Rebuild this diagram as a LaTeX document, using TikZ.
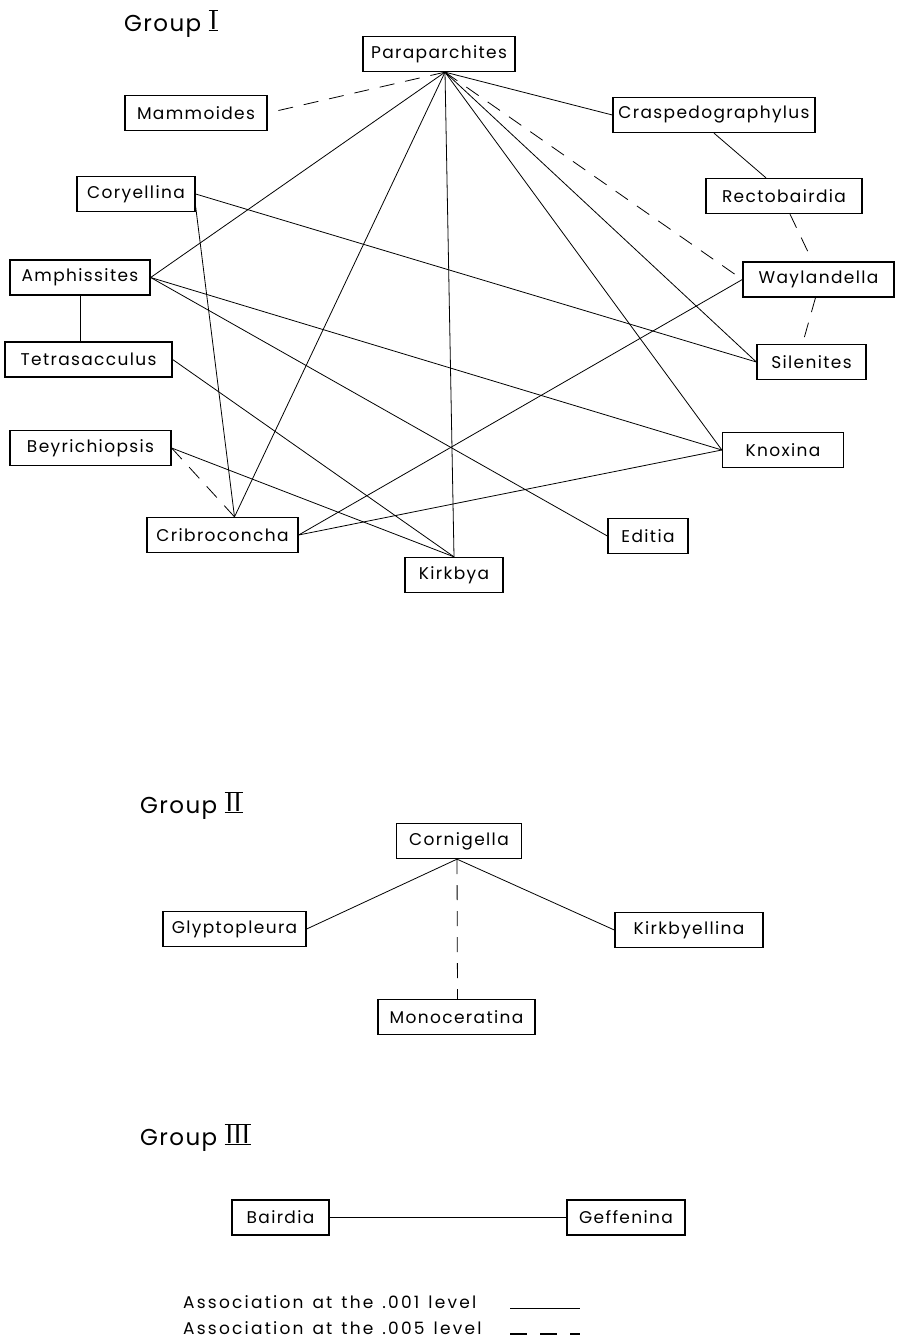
\documentclass[tikz,border=0pt]{standalone}
\usepackage{fontspec}
\setmainfont{Poppins}[LetterSpace=8]
\usetikzlibrary{positioning}
% roman numeral with bars above and below
\newcommand\grpnum[1]{\vbox{\hrule height 1.3pt\hbox{\fontsize{27}{30}\selectfont\kern1.5pt#1\kern1.5pt}\hrule height 1.3pt}}
% wide word gaps for the legend
\newcommand\legendfont{\fontsize{17}{20}\selectfont\addfontfeatures{LetterSpace=13}\spaceskip 9pt\relax}

\begin{document}
\begin{tikzpicture}[
    x=1pt, y=-1pt,
    taxon/.style={rectangle, draw, line width=1.3pt, minimum width=#1, minimum height=35pt, inner xsep=4pt, font=\fontsize{17}{20}\selectfont},
    taxon/.default=100pt,
    strong/.style={line width=0.8pt},
    weak/.style={line width=0.8pt, dash pattern=on 15pt off 11pt},
    grouplabel/.style={anchor=base west, inner sep=0pt, font=\fontsize{23}{27}\selectfont\addfontfeatures{LetterSpace=6}},
    legend/.style={anchor=base west, inner sep=0pt, font=\legendfont}
]
    \useasboundingbox[fill=white] (0,0) rectangle (897,1341);

    % Group I
    \node[grouplabel] (gone) at (124,31) {Group \grpnum{I}};
    \node[taxon=152pt] (para) at (439,54) {Paraparchites};
    \node[taxon=142pt] (mamm) at (196,113) {Mammoides};
    \node[taxon=202pt] (crasp) at (714,115) {Craspedographylus};
    \node[taxon=118pt] (cory) at (136,194) {Coryellina};
    \node[taxon=156pt] (recto) at (784,196) {Rectobairdia};
    \node[taxon=140pt] (amph) at (80,277.5) {Amphissites};
    \node[taxon=151pt] (wayl) at (818.5,279.5) {Waylandella};
    \node[taxon=167pt] (tetra) at (88.5,359.5) {Tetrasacculus};
    \node[taxon=109pt] (silen) at (811.5,362) {Silenites};
    \node[taxon=161pt] (beyr) at (90.5,448) {Beyrichiopsis};
    \node[taxon=121pt] (knox) at (783,450) {Knoxina};
    \node[taxon=151pt] (crib) at (222.5,535) {Cribroconcha};
    \node[taxon=80pt] (edit) at (648,536) {Editia};
    \node[taxon=98pt] (kirk) at (454,575) {Kirkbya};

    \draw[weak] ([xshift=6pt]para.south) -- (mamm.east);
    \draw[strong] ([xshift=6pt]para.south) -- (crasp.west);
    \draw[strong] ([xshift=6pt]para.south) -- (amph.east);
    \draw[strong] ([xshift=6pt]para.south) -- ([xshift=12pt]crib.north);
    \draw[strong] ([xshift=6pt]para.south) -- (kirk.north);
    \draw[strong] ([xshift=6pt]para.south) -- (knox.west);
    \draw[strong] ([xshift=6pt]para.south) -- (silen.west);
    \draw[weak] ([xshift=6pt]para.south) -- (wayl.west);
    \draw[strong] (crasp.south) -- ([xshift=-18pt]recto.north);
    \draw[weak] ([xshift=6pt]recto.south) -- ([xshift=-6pt]wayl.north);
    \draw[weak] ([xshift=-3pt]wayl.south) -- ([xshift=-9pt]silen.north);
    \draw[strong] (cory.east) -- (silen.west);
    \draw[strong] (cory.-12) -- ([xshift=12pt]crib.north);
    \draw[strong] (amph.south) -- (amph.south |- tetra.north);
    \draw[strong] (amph.east) -- (knox.west);
    \draw[strong] (amph.east) -- (edit.west);
    \draw[strong] (tetra.east) -- (kirk.north);
    \draw[strong] (beyr.east) -- (kirk.north);
    \draw[weak] (beyr.east) -- ([xshift=12pt]crib.north);
    \draw[strong] (crib.east) -- (wayl.west);
    \draw[strong] (crib.east) -- (knox.west);

    % Group II
    \node[grouplabel] (gtwo) at (140,813) {Group \grpnum{II}};
    \node[taxon=125pt] (corn) at (459,841) {Cornigella};
    \node[taxon=143pt] (glyp) at (234.5,929) {Glyptopleura};
    \node[taxon=148pt] (kbyel) at (689,930) {Kirkbyellina};
    \node[taxon=157pt] (mono) at (456.5,1017) {Monoceratina};

    \draw[strong] ([xshift=-2pt]corn.south) -- (glyp.east);
    \draw[strong] ([xshift=-2pt]corn.south) -- (kbyel.west);
    \draw[weak] ([xshift=-2pt]corn.south) -- ([xshift=1pt]mono.north);

    % Group III
    \node[grouplabel] (gthree) at (140,1145) {Group \grpnum{III}};
    \node[taxon=97pt] (bair) at (280.5,1217.5) {Bairdia};
    \node[taxon=118pt] (geff) at (626,1217.5) {Geffenina};

    \draw[strong] (bair.east) -- (geff.west);

    % Legend
    \node[legend] (lvone) at (183,1308) {Association at the .001 level};
    \node[legend] (lvtwo) at (183,1334) {Association at the .005 level};
    \coordinate (lvoneS) at (510,1308);
    \coordinate[right=70pt of lvoneS] (lvoneE);
    \coordinate (lvtwoS) at (510,1334);
    \coordinate[right=70pt of lvtwoS] (lvtwoE);
    \draw[line width=1pt] (lvoneS) -- (lvoneE);
    \draw[line width=1.2pt, dash pattern=on 17pt off 13pt] (lvtwoS) -- (lvtwoE);
\end{tikzpicture}
\end{document}
